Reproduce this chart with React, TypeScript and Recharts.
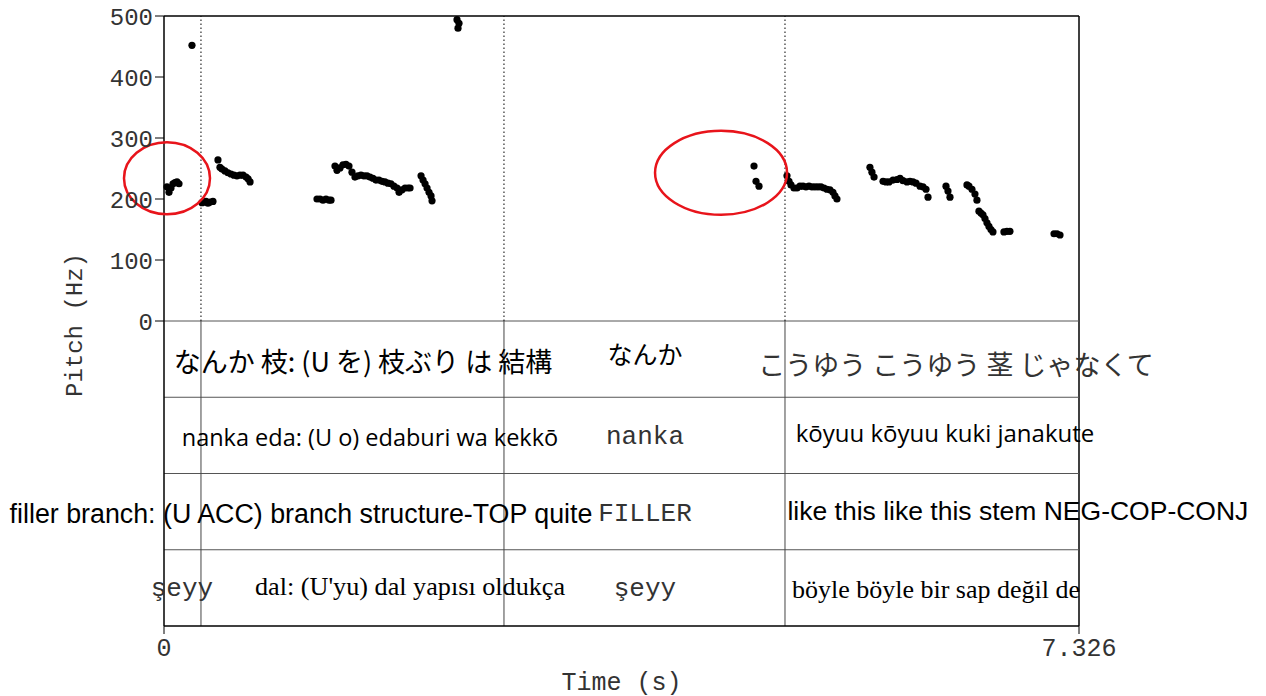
import React from "react";
import { ScatterChart, Scatter, XAxis, YAxis, ReferenceLine, ReferenceDot } from "recharts";

// pitch track, [time s, Hz]
const segA: [number, number][] = [
  [0.024, 220], [0.04, 211], [0.056, 218], [0.072, 225], [0.088, 227], [0.104, 228], [0.12, 225],
];
const segB: [number, number][] = [[0.224, 452]];
const segC: [number, number][] = [
  [0.304, 194], [0.32, 195], [0.336, 196], [0.352, 193], [0.368, 195], [0.392, 196],
];
const segD: [number, number][] = [
  [0.432, 264], [0.448, 252], [0.464, 249], [0.488, 246], [0.512, 243], [0.536, 241], [0.56, 239],
  [0.584, 238], [0.608, 239], [0.633, 239], [0.657, 236], [0.673, 233], [0.689, 228],
];
const segE: [number, number][] = [
  [1.225, 200], [1.249, 200], [1.273, 198], [1.297, 200], [1.321, 198], [1.337, 198],
];
const segF: [number, number][] = [
  [1.369, 254], [1.385, 247], [1.409, 251], [1.433, 256], [1.457, 257], [1.481, 254], [1.505, 244],
  [1.529, 236], [1.553, 238], [1.577, 239], [1.601, 238], [1.625, 238], [1.649, 236], [1.673, 234],
  [1.697, 231], [1.721, 231], [1.745, 229], [1.769, 228], [1.793, 226], [1.817, 225], [1.841, 221],
  [1.866, 218], [1.882, 211], [1.906, 215], [1.93, 218], [1.954, 218], [1.97, 218],
];
const segG: [number, number][] = [
  [2.058, 238], [2.074, 231], [2.09, 225], [2.106, 218], [2.122, 211], [2.138, 205], [2.146, 197],
];
const segH: [number, number][] = [[2.346, 494], [2.362, 488], [2.354, 480]];
const segI: [number, number][] = [[4.724, 254], [4.74, 229], [4.764, 221]];
const segJ: [number, number][] = [
  [4.988, 238], [5.004, 229], [5.02, 223], [5.044, 218], [5.068, 218], [5.092, 221], [5.116, 221],
  [5.14, 220], [5.164, 221], [5.188, 220], [5.212, 220], [5.236, 220], [5.26, 220], [5.284, 218],
  [5.308, 216], [5.332, 215], [5.356, 211], [5.372, 205], [5.388, 200],
];
const segK: [number, number][] = [
  [5.652, 252], [5.668, 244], [5.685, 236], [5.757, 229], [5.781, 228], [5.805, 228], [5.837, 231],
  [5.869, 232], [5.893, 234], [5.917, 230], [5.949, 228], [5.973, 229], [5.997, 228], [6.021, 226],
  [6.053, 221], [6.077, 220], [6.101, 216], [6.117, 203],
];
const segL: [number, number][] = [[6.261, 221], [6.277, 213], [6.293, 203]];
const segM: [number, number][] = [[6.429, 223], [6.445, 221], [6.469, 216], [6.493, 208], [6.509, 198]];
const segN: [number, number][] = [
  [6.525, 180], [6.541, 177], [6.557, 174], [6.573, 168], [6.589, 161], [6.605, 155], [6.621, 150], [6.637, 146],
];
const segO: [number, number][] = [[6.725, 146], [6.749, 147], [6.773, 147]];
const segP: [number, number][] = [[7.126, 143], [7.15, 143], [7.174, 141]];

const segments = [segA, segB, segC, segD, segE, segF, segG, segH, segI, segJ, segK, segL, segM, segN, segO, segP];

const duration = 7.326;
const xTicks = [0, 7.326];
const yTicks = [0, 100, 200, 300, 400, 500];
const boundaries = [0.296, 2.722, 4.972];
// tier edges on the same vertical scale as the pitch (below 0)
const tierEdges = [0, -125, -250, -375, -500];

// interval labels: time of text centre
const tier1 = [
  { t: 1.593, text: "なんか 枝: (U を) 枝ぶり は 結構" },
  { t: 3.851, text: "なんか" },
  { t: 6.341, text: "こうゆう こうゆう 茎 じゃなくて" },
];
const tier2 = [
  { t: 1.649, text: "nanka eda: (U o) edaburi wa kekkō" },
  { t: 3.851, text: "nanka" },
  { t: 6.253, text: "kōyuu kōyuu kuki janakute" },
];
const tier3 = [
  { t: 1.097, text: "filler branch: (U ACC) branch structure-TOP quite" },
  { t: 3.851, text: "FILLER" },
  { t: 6.837, text: "like this like this stem NEG-COP-CONJ" },
];
const tier4 = [
  { t: 0.144, text: "şeyy" },
  { t: 1.97, text: "dal: (U'yu) dal yapısı oldukça" },
  { t: 3.851, text: "şeyy" },
  { t: 6.181, text: "böyle böyle bir sap değil de" },
];
const tiers = [tier1, tier2, tier3, tier4];

// red circled regions [time, Hz]
const highlights: [number, number, number, number][] = [
  [0.024, 234, 43, 36],
  [4.46, 243, 66, 42],
];

const MONO = "'Liberation Mono', 'DejaVu Sans Mono', monospace";
const JP = "'Noto Sans CJK JP', sans-serif";
const OPEN = "'Open Sans', sans-serif";
const ARIAL = "'Liberation Sans', Arial, sans-serif";
const SERIF = "'Liberation Serif', serif";

type TS = { font: string; size: number; dy: number; color?: string };
const tierStyles: TS[][] = [
  [
    { font: JP, size: 27, dy: 1 },
    { font: JP, size: 25, dy: -6 },
    { font: JP, size: 27, dy: 4, color: "#333" },
  ],
  [
    { font: OPEN, size: 23.5, dy: 2 },
    { font: MONO, size: 26, dy: 2, color: "#333" },
    { font: OPEN, size: 24, dy: -3 },
  ],
  [
    { font: ARIAL, size: 26.8, dy: 2 },
    { font: MONO, size: 26, dy: 2, color: "#333" },
    { font: ARIAL, size: 26.5, dy: -1 },
  ],
  [
    { font: MONO, size: 26, dy: 1, color: "#333" },
    { font: SERIF, size: 26.2, dy: -1 },
    { font: MONO, size: 26, dy: 1, color: "#333" },
    { font: SERIF, size: 26, dy: 2 },
  ],
];

const pitchData = segments.flat().map(([t, hz]) => ({ t, hz }));

const dot = (p: any) => <circle cx={p.cx} cy={p.cy} r={3.6} fill="#000" />;

export default function App() {
  return (
    <div style={{ position: "absolute", left: 0, top: 0, background: "#fff" }}>
      <ScatterChart width={1266} height={696} margin={{ top: 16, right: 187, left: 104, bottom: 30 }}>
        <XAxis
          type="number"
          dataKey="t"
          domain={[0, duration]}
          ticks={xTicks}
          tickFormatter={(v) => (v === 0 ? "0" : String(v))}
          axisLine={{ stroke: "#000", strokeWidth: 1.5 }}
          tickLine={{ stroke: "#000" }}
          tickSize={8}
          tickMargin={4}
          height={40}
          tick={{ fill: "#333", fontSize: 25, fontFamily: MONO }}
          label={{
            content: (props: any) => (
              <text x={props.viewBox.x + props.viewBox.width / 2} y={683} textAnchor="middle" dominantBaseline="central" fontFamily={MONO} fontSize={25} fill="#333">
                Time (s)
              </text>
            ),
          }}
        />
        <YAxis
          type="number"
          dataKey="hz"
          domain={[-500, 500]}
          ticks={yTicks}
          axisLine={{ stroke: "#000", strokeWidth: 1.5 }}
          tickLine={{ stroke: "#000" }}
          tickSize={9}
          tickMargin={2}
          width={60}
          tick={{ fill: "#333", fontSize: 24, fontFamily: MONO }}
          label={{
            content: () => (
              <text x={75} y={325} transform="rotate(-90 75 325)" textAnchor="middle" dominantBaseline="central" fontFamily={MONO} fontSize={24} fill="#333">
                Pitch (Hz)
              </text>
            ),
          }}
        />
        <ReferenceLine y={500} stroke="#000" strokeWidth={1.5} />
        <ReferenceLine x={duration} stroke="#000" strokeWidth={1.5} />
        {tierEdges.slice(0, 4).map((e) => (
          <ReferenceLine key={e} y={e} stroke="#555" strokeWidth={1} />
        ))}
        {boundaries.map((b) => (
          <ReferenceLine key={"d" + b} segment={[{ x: b, y: 0 }, { x: b, y: 500 }]} stroke="#000" strokeWidth={1} strokeDasharray="1.5 2.5" />
        ))}
        {boundaries.map((b) => (
          <ReferenceLine key={"s" + b} segment={[{ x: b, y: -500 }, { x: b, y: 0 }]} stroke="#444" strokeWidth={1} />
        ))}
        <Scatter data={pitchData} dataKey="hz" shape={dot} isAnimationActive={false} />
        {tiers.map((tier, ti) => {
          const mid = (tierEdges[ti] + tierEdges[ti + 1]) / 2;
          const data = tier.map((l, i) => ({ t: l.t, hz: mid, text: l.text, i }));
          return (
            <Scatter
              key={"tier" + ti}
              data={data}
              dataKey="hz"
              isAnimationActive={false}
              shape={(p: any) => {
                const st = tierStyles[ti][p.payload.i];
                return (
                  <text
                    x={p.cx}
                    y={p.cy + st.dy}
                    textAnchor="middle"
                    dominantBaseline="central"
                    fontFamily={st.font}
                    fontSize={st.size}
                    fill={st.color ?? "#000"}
                  >
                    {p.payload.text}
                  </text>
                );
              }}
            />
          );
        })}
        {highlights.map(([t, hz, rx, ry], i) => (
          <ReferenceDot
            key={"h" + i}
            x={t}
            y={hz}
            ifOverflow="visible"
            shape={(p: any) => <ellipse cx={p.cx} cy={p.cy} rx={rx} ry={ry} fill="none" stroke="#e8141b" strokeWidth={2.5} />}
          />
        ))}
      </ScatterChart>
    </div>
  );
}
